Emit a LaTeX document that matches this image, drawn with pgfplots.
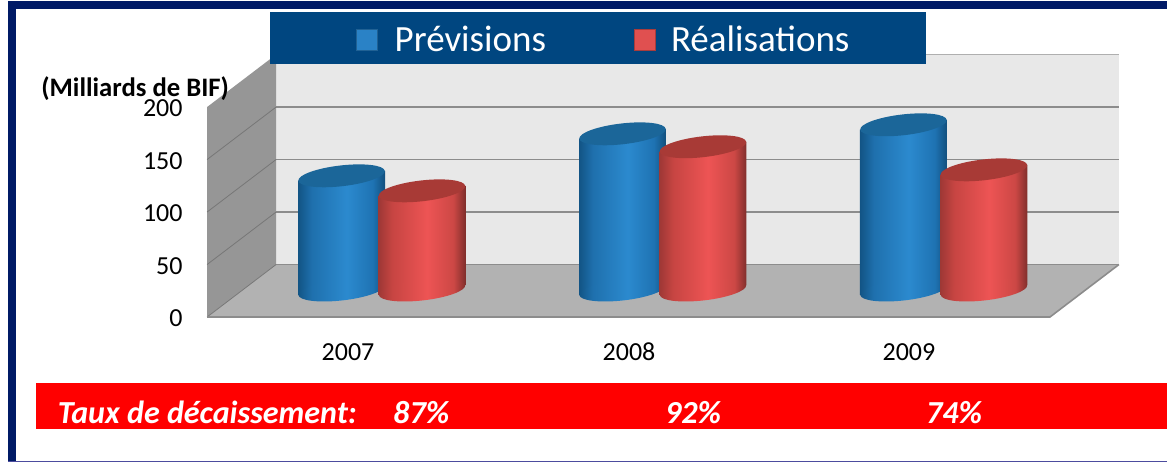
\documentclass[border=0pt]{standalone}
\usepackage{fontspec}
\usepackage{pgfplots}
\usepackage{pgfplotstable}
\pgfplotsset{compat=1.18}
\setmainfont{Carlito}
\definecolor{framecol}{HTML}{001A66}
\definecolor{legcol}{HTML}{004680}
\definecolor{wallback}{HTML}{E8E8E8}
\definecolor{wallleft}{HTML}{969696}
\definecolor{floorc}{HTML}{B2B2B2}
\definecolor{gridc}{HTML}{8C8C8C}
\definecolor{bluetop}{HTML}{1B6699}
\definecolor{redtop}{HTML}{A83A36}
\definecolor{swblue}{HTML}{2A82C6}
\definecolor{swred}{HTML}{E05050}
\pgfdeclarehorizontalshading{cylb}{100bp}{rgb(0bp)=(0.07,0.33,0.52);rgb(25bp)=(0.07,0.33,0.52);rgb(33bp)=(0.12,0.44,0.68);rgb(53bp)=(0.17,0.54,0.81);rgb(68bp)=(0.12,0.45,0.70);rgb(75bp)=(0.07,0.31,0.49);rgb(100bp)=(0.07,0.31,0.49)}
\pgfdeclarehorizontalshading{cylr}{100bp}{rgb(0bp)=(0.62,0.22,0.21);rgb(25bp)=(0.62,0.22,0.21);rgb(33bp)=(0.78,0.27,0.26);rgb(53bp)=(0.93,0.33,0.33);rgb(68bp)=(0.80,0.28,0.27);rgb(75bp)=(0.50,0.18,0.17);rgb(100bp)=(0.50,0.18,0.17)}
\pgfdeclareplotmark{topb}{\fill[draw=none,bluetop] (0pt,0pt) circle [x radius=43.5bp,y radius=10.4bp,rotate=6.5];}
\pgfdeclareplotmark{topr}{\fill[draw=none,redtop] (0pt,0pt) circle [x radius=43.5bp,y radius=10.4bp,rotate=6.5];}
\pgfdeclareplotmark{botb}{\shade[draw=none,shading=cylb] (0pt,0pt) circle [x radius=43.5bp,y radius=10.4bp,rotate=6.5];}
\pgfdeclareplotmark{botr}{\shade[draw=none,shading=cylr] (0pt,0pt) circle [x radius=43.5bp,y radius=10.4bp,rotate=6.5];}
\pgfplotsset{
  base/.style={scale only axis,width=1167bp,height=462bp,xmin=0,xmax=1167,
    axis line style={draw=none},major tick length=0pt,clip=false},
  mid/.style={base,at={(0,0)},anchor=south west,ymin=-163.81,ymax=276.19,xtick=\empty,ytick=\empty},
  wall/.style={draw=none,fill=#1,forget plot,mark=none},
  gl/.style={draw=gridc,line width=1.4bp,forget plot,mark=none},
  sl/.style={draw=gridc!85!black,line width=.8bp,forget plot,mark=none},
  swatchA/.style={legend image code/.code={
    \path[draw=none] (0bp,0bp) -- (86bp,0bp);
    \fill[#1,draw=#1!75!black,line width=1bp] (86bp,-12.25bp) rectangle (107bp,8.75bp);}},
  swatchB/.style={legend image code/.code={
    \fill[#1,draw=#1!75!black,line width=1bp] (0bp,-12.25bp) rectangle (21bp,8.75bp);}},
}
\pgfplotstableread{
x value
341.5 108.8
622.5 148.8
903.5 157.4
}\previsions
\pgfplotstableread{
x value
422 94.5
703 136.5
984 114.5
}\realisations
\begin{document}
\begin{tikzpicture}
% walls, floor and value scale: 0 at the front edge
\begin{axis}[base,at={(0,0)},anchor=south west,
  ymin=-138.095,ymax=301.905,
  xtick={348,629,909},xticklabels={2007,2008,2009},
  ytick={0,50,100,150,200},
  /pgf/number format/assume math mode=true,
  x tick label style={font=\fontsize{26bp}{30bp}\selectfont,yshift=122bp,text height=17bp,text depth=0pt},
  y tick label style={font=\fontsize{26bp}{30bp}\selectfont,anchor=east,xshift=186bp,yshift=-1.5bp},
]
\addplot[wall=wallback] coordinates {(276,50)(1119,50)(1119,250)(276,250)} -- cycle;
\addplot[wall=wallleft] coordinates {(207,0)(276,50)(276,250)(207,200)} -- cycle;
\addplot[wall=floorc] coordinates {(207,0)(276,50)(1119,50)(1050,0)} -- cycle;
\addplot[gl] coordinates {(276,100)(1119,100)};
\addplot[gl] coordinates {(276,150)(1119,150)};
\addplot[gl] coordinates {(276,200)(1119,200)};
\addplot[gl,draw=gridc!70!white] coordinates {(276,250)(1119,250)};
\addplot[gl] coordinates {(276,50)(1119,50)};
\addplot[sl] coordinates {(207,50)(276,100)};
\addplot[sl] coordinates {(207,100)(276,150)};
\addplot[sl] coordinates {(207,150)(276,200)};
\addplot[sl] coordinates {(207,0)(276,50)};
\addplot[gl,line width=1.6bp] coordinates {(207,0)(1050,0)(1119,50)};
\end{axis}
% blue cylinders: 0 at the middle of the depth
\begin{axis}[mid]
\addplot[only marks,mark=botb,forget plot] table[x=x,y expr=0] {\previsions};
\addplot[draw=none,shading=cylb,forget plot,mark=none] coordinates {(298,-4.7)(385,4.7)(385,113.5)(298,104.1)} -- cycle;
\addplot[draw=none,shading=cylb,forget plot,mark=none] coordinates {(579,-4.7)(666,4.7)(666,153.5)(579,144.1)} -- cycle;
\addplot[draw=none,shading=cylb,forget plot,mark=none] coordinates {(860,-4.7)(947,4.7)(947,162.1)(860,152.7)} -- cycle;
\addplot[only marks,mark=topb,forget plot] table[x=x,y=value] {\previsions};
\end{axis}
% red cylinders, in front of the blue ones
\begin{axis}[mid,
  legend style={at={(270bp,398bp)},anchor=south west,legend columns=2,
    fill=legcol,draw=none,text=white,inner xsep=0pt,inner ysep=0pt,
    font=\fontsize{37bp}{40bp}\selectfont,
    nodes={text height=37bp,text depth=10.5bp},
    /tikz/every odd column/.append style={column sep=0bp},
    /tikz/every even column/.append style={column sep=0bp}},
]
\addplot[only marks,mark=botr,forget plot] table[x=x,y expr=0] {\realisations};
\addplot[draw=none,shading=cylr,forget plot,mark=none] coordinates {(378.5,-4.7)(465.5,4.7)(465.5,99.2)(378.5,89.8)} -- cycle;
\addplot[draw=none,shading=cylr,forget plot,mark=none] coordinates {(659.5,-4.7)(746.5,4.7)(746.5,141.2)(659.5,131.8)} -- cycle;
\addplot[draw=none,shading=cylr,forget plot,mark=none] coordinates {(940.5,-4.7)(1027.5,4.7)(1027.5,119.2)(940.5,109.8)} -- cycle;
\addplot[only marks,mark=topr,forget plot] table[x=x,y=value] {\realisations};
\addlegendimage{swatchA=swblue}
\addlegendentry{\hspace{15bp}Prévisions\hspace{86bp}\rule{0pt}{1bp}}
\addlegendimage{swatchB=swred}
\addlegendentry{\hspace{13bp}Réalisations\hspace{75bp}\rule{0pt}{1bp}}
\end{axis}
% frame, band and texts, in picture units
\fill[framecol] (8bp,453bp) rectangle (1167bp,461bp);
\fill[framecol] (8bp,0bp) rectangle (16bp,461bp);
\fill[black!20!blue!40!gray] (8bp,0bp) rectangle (1167bp,1bp);
\fill[red] (36bp,33bp) rectangle (1167bp,79bp);
\node[anchor=west,inner sep=0pt,font=\fontsize{26.7bp}{30bp}\selectfont\bfseries] at (41bp,373bp) {(Milliards de BIF)};
\begin{scope}[every node/.style={anchor=base west,inner sep=0pt,text=white,font=\fontsize{32.1bp}{36bp}\selectfont\bfseries\itshape}]
\node at (57.5bp,39bp) {Taux de décaissement:};
\node at (393bp,39bp) {87\%};
\node at (665bp,39bp) {92\%};
\node at (926bp,39bp) {74\%};
\end{scope}
\end{tikzpicture}
\end{document}
